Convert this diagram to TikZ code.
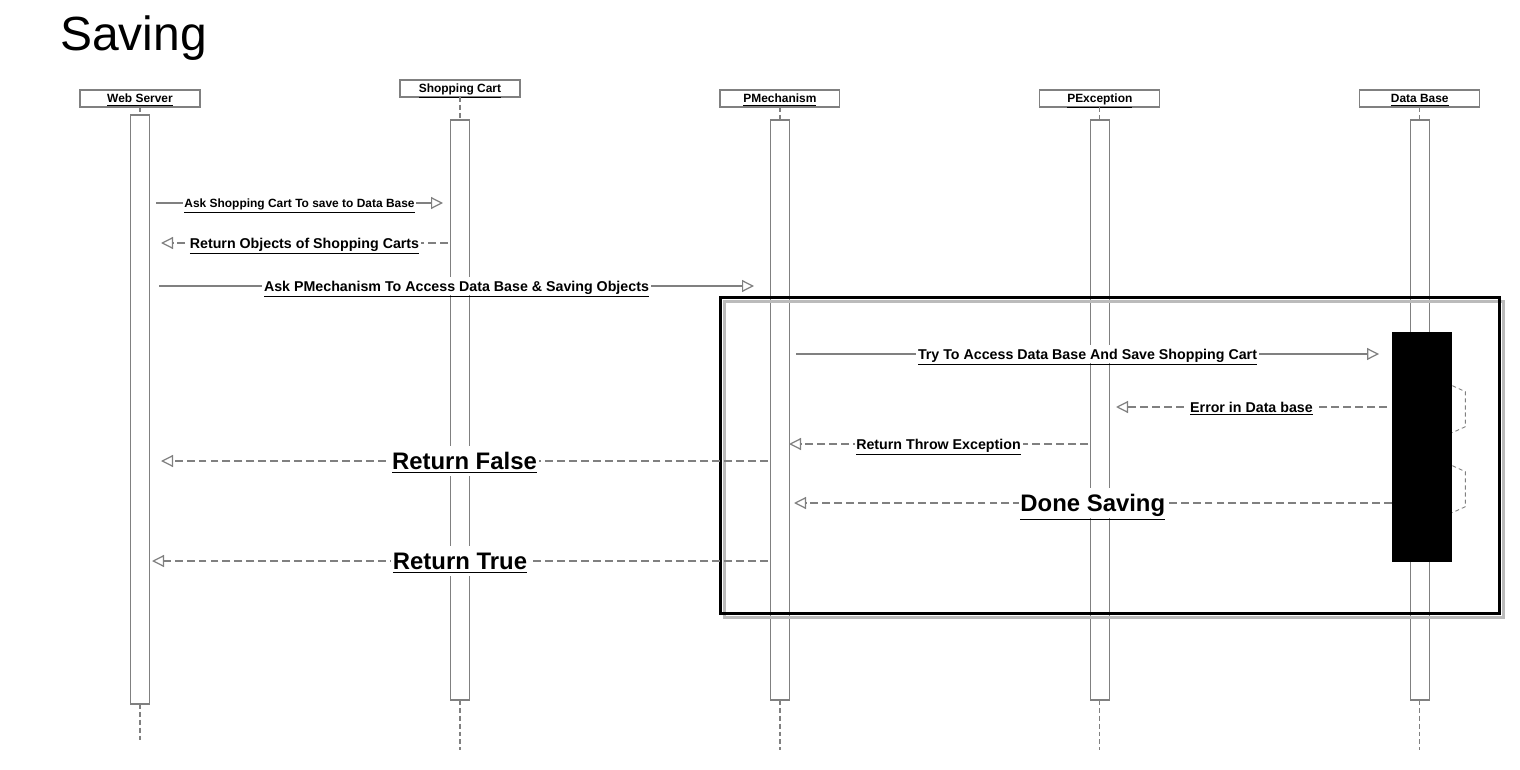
\documentclass[tikz,border=0pt]{standalone}
\usepackage{fontspec}
\setmainfont{Liberation Sans}
\usepackage{tikz}
\usetikzlibrary{arrows.meta, positioning, calc}
\definecolor{lifegray}{HTML}{808080}
\definecolor{shadowgray}{HTML}{BBBBBB}

\begin{document}
\begin{tikzpicture}[
    x=0.02cm, y=-0.02cm,
    node distance=4cm,
    head/.style={draw=lifegray, line width=0.7pt, minimum width=2.4cm, minimum height=0.34cm, inner sep=0pt, outer sep=0pt, text height=5.2pt, text depth=0.3pt, font=\bfseries\fontsize{6.8}{8}\selectfont},
    bar/.style={draw=lifegray, fill=white, line width=0.7pt, minimum width=0.38cm, minimum height=11.6cm, inner sep=0pt, outer sep=0pt},
    life/.style={draw=lifegray, line width=0.7pt, dash pattern=on 2.8pt off 1.7pt},
    msg/.style={draw=lifegray, line width=0.7pt, -{Triangle[open, length=0.24cm, width=0.24cm]}},
    ret/.style={msg, dash pattern=on 4.5pt off 2.3pt},
    lbl/.style={fill=white, inner sep=1pt, text height=7.3pt, text depth=1.5pt, font=\bfseries\fontsize{8.1}{9}\selectfont},
    smalllbl/.style={lbl, text height=6.1pt, text depth=1.25pt, font=\bfseries\fontsize{6.8}{8}\selectfont},
    biglbl/.style={lbl, text height=12.2pt, text depth=2.5pt, font=\bfseries\fontsize{13.6}{15}\selectfont},
    group/.style={draw=black, line width=1.7pt, minimum width=15.6cm, minimum height=6.34cm, inner sep=0pt, outer sep=0pt},
    selfloop/.style={draw=lifegray, line width=0.5pt, dash pattern=on 2.3pt off 1.7pt}
]
    \useasboundingbox (0,0) rectangle (1520,770);

    \node[font=\fontsize{27.3}{30}\selectfont] (title) at (133.5,38) {Saving};

    % lifeline heads
    \node[head] (ws) at (140,98.5) {\underline{Web Server}};
    \node[head, right=of ws, yshift=0.2cm] (cart) {\underline{Shopping Cart}};
    \node[head, right=of cart, yshift=-0.2cm] (pm) {\underline{PMechanism}};
    \node[head, right=of pm] (pex) {\underline{PException}};
    \node[head, right=of pex] (db) {\underline{Data Base}};

    % activation bars
    \node[bar, minimum height=11.78cm, below=0.16cm of ws] (wsbar) {};
    \node[bar, below=0.46cm of cart] (cartbar) {};
    \node[bar, below=0.26cm of pm] (pmbar) {};
    \node[bar, below=0.26cm of pex] (pexbar) {};
    \node[bar, below=0.26cm of db] (dbbar) {};

    \coordinate[below=0.72cm of wsbar] (wsend);
    \coordinate[below=1cm of cartbar] (cartend);
    \coordinate[below=1cm of pmbar] (pmend);
    \coordinate[below=1cm of pexbar] (pexend);
    \coordinate[below=1cm of dbbar] (dbend);

    \draw[life] (ws.south) -- (wsbar.north) (wsbar.south) -- (wsend);
    \draw[life] (cart.south) -- (cartbar.north) (cartbar.south) -- (cartend);
    \draw[life] (pm.south) -- (pmbar.north) (pmbar.south) -- (pmend);
    \draw[life] (pex.south) -- (pexbar.north) (pexbar.south) -- (pexend);
    \draw[life] (db.south) -- (dbbar.north) (dbbar.south) -- (dbend);

    % saving frame
    \node[group, draw=none] (frame) at (1110,455.5) {};
    \draw[shadowgray, line width=1.7pt] ($(frame.north west)+(4,4)$) rectangle ($(frame.south east)+(4,4)$);
    \node[group] at (frame) {};

    \node[fill=black, minimum width=1.2cm, minimum height=4.6cm, inner sep=0pt] (busy) at (1422,447) {};
    \draw[selfloop] ($(busy.north east)+(0,54)$) -- ++(13,6) -- ++(0,35) -- ++(-13,6);
    \draw[selfloop] ($(busy.north east)+(0,134)$) -- ++(13,6) -- ++(0,35) -- ++(-13,6);

    % message ends
    \coordinate (askcart-s) at (156,203);
    \coordinate (askcart-e) at (443,203);
    \coordinate (objs-s) at (448,243);
    \coordinate (objs-e) at (161,243);
    \coordinate (askpm-s) at (159,286);
    \coordinate (askpm-e) at (754,286);
    \coordinate (try-s) at (796,354);
    \coordinate (try-e) at (1379,354);
    \coordinate (err-s) at (1387,407);
    \coordinate (err-e) at (1116,407);
    \coordinate (throw-s) at (1088,444);
    \coordinate (throw-e) at (789,444);
    \coordinate (false-s) at (768,461);
    \coordinate (false-e) at (161,461);
    \coordinate (done-s) at (busy.west |- 0,503);
    \coordinate (done-e) at (794,503);
    \coordinate (true-s) at (768,561);
    \coordinate (true-e) at (152,561);

    % messages
    \draw[msg] (askcart-s) -- node[smalllbl] {\underline{Ask Shopping Cart To save to Data Base}} (askcart-e);
    \draw[ret] (objs-s) -- node[lbl] {\underline{Return Objects of Shopping Carts}} (objs-e);
    \draw[msg] (askpm-s) -- node[lbl] {\underline{Ask PMechanism To Access Data Base \& Saving Objects}} (askpm-e);
    \draw[msg] (try-s) -- node[lbl] {\underline{Try To Access Data Base And Save Shopping Cart}} (try-e);
    \draw[ret] (err-s) -- node[lbl] {\underline{Error in Data base}} (err-e);
    \draw[ret] (throw-s) -- node[lbl] {\underline{Return Throw Exception}} (throw-e);
    \draw[ret] (false-s) -- node[biglbl] {\underline{Return False}} (false-e);
    \draw[ret] (done-s) -- node[biglbl] {\underline{Done Saving}} (done-e);
    \draw[ret] (true-s) -- node[biglbl] {\underline{Return True}} (true-e);
\end{tikzpicture}
\end{document}
